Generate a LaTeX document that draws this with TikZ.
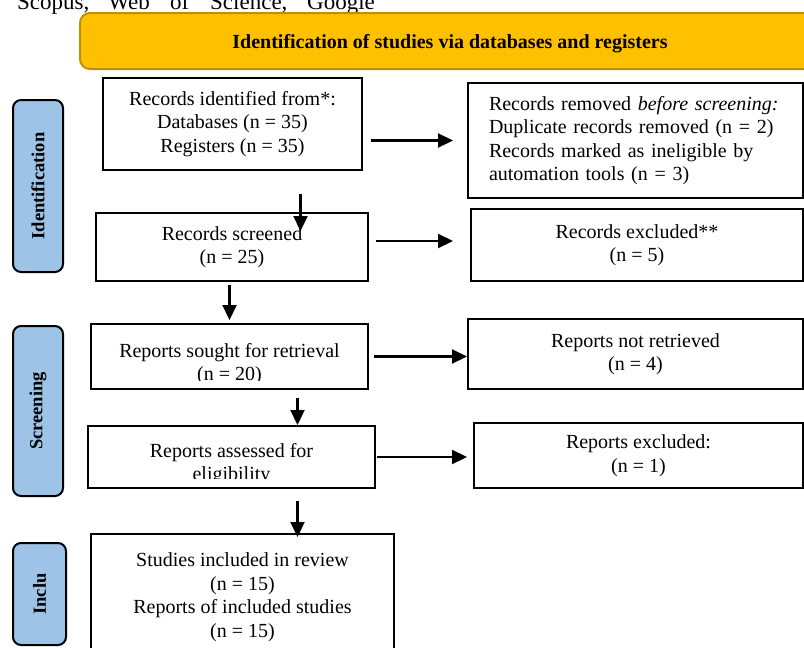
\documentclass[tikz,border=0pt]{standalone}
\usepackage{fontspec}
\setmainfont{Liberation Serif}
\usetikzlibrary{arrows.meta}
\definecolor{bannerfill}{RGB}{255,192,0}
\definecolor{bannerline}{RGB}{191,144,0}
\definecolor{stagefill}{RGB}{157,195,230}
\begin{document}
\begin{tikzpicture}[x=1pt, y=-1pt,
        every node/.style={font=\fontsize{20}{23.5}\selectfont},
        box/.style={draw, line width=2pt, inner sep=0pt, align=center},
        stage/.style={draw, line width=2pt, fill=stagefill, rounded corners=8pt, rotate=90,
            minimum height=50pt, font=\fontsize{18.5}{22}\selectfont\bfseries},
        arr/.style={line width=2.2pt, -{Triangle[length=15pt, width=14pt]}}]
        \useasboundingbox (0,0) rectangle (804,648);
        \node[anchor=base west, inner sep=0pt, font=\fontsize{23}{27}\selectfont] (sources) at (17,9.5)
            {\makebox[91pt][l]{Scopus,}\makebox[62pt][l]{Web}\makebox[40pt][l]{of}\makebox[97pt][l]{Science,}Google};
        \node[draw=bannerline, fill=bannerfill, line width=2pt, rounded corners=10pt,
            minimum width=740pt, minimum height=56pt, text height=14pt, text depth=0pt,
            font=\fontsize{20}{23.5}\selectfont\bfseries] (banner) at (450,41)
            {Identification of studies via databases and registers};
        \node[stage, minimum width=172pt] (idstage) at (38,186) {Identification};
        \node[stage, minimum width=170pt] (scrstage) at (38,411) {Screening};
        \node[stage, minimum width=102pt, minimum height=53pt] (incstage) at (39.5,594) {Inclu};
        \node[box, minimum width=259pt, minimum height=92pt] (ident) at (232.5,124)
            {Records identified from*:\\Databases (n = 35)\\Registers (n = 35)};
        \node[box, minimum height=115pt, align=left, text width=293pt, inner xsep=21pt] (removed) at (635.5,140.5)
            {Records removed \textit{before screening:}\\Duplicate records removed (n = 2)\\
            Records marked as ineligible by\\automation tools (n = 3)};
        \node[box, minimum width=272pt, minimum height=68pt] (screened) at (232,247) {Records screened\\(n = 25)};
        \node[box, minimum width=332pt, minimum height=72pt] (excl) at (637,245) {Records excluded**\\(n = 5)};
        \node[box, minimum width=277pt, minimum height=65pt] (sought) at (229.5,356.5) {};
        \node[box, minimum width=335pt, minimum height=70pt] (notret) at (635.5,354) {Reports not retrieved\\(n = 4)};
        \node[box, minimum width=287pt, minimum height=62pt] (assessed) at (231.5,457) {};
        \node[box, minimum width=329pt, minimum height=65pt] (repexcl) at (638.5,455.5) {Reports excluded:\\(n = 1)};
        \node[box, minimum width=303pt, minimum height=126pt] (incl) at (242.5,597)
            {Studies included in review\\(n = 15)\\Reports of included studies\\(n = 15)};
        \begin{scope}
            \clip (sought.north west) rectangle ([yshift=10pt]sought.south east);
            \node[align=center] (soughttext) at (229.5,364) {Reports sought for retrieval\\(n = 20)};
        \end{scope}
        \begin{scope}
            \clip (assessed.north west) rectangle ([yshift=11pt]assessed.south east);
            \node[align=center] (assessedtext) at (231.5,464) {Reports assessed for\\eligibility};
        \end{scope}
        \coordinate (drop1) at ([xshift=68pt]ident.south);
        \coordinate (out3) at ([yshift=6pt]screened.east);
        \coordinate (drop2) at ([xshift=66pt]assessed.north);
        \coordinate (drop3) at ([xshift=55pt]incl.north);
        \draw[arr, shorten <=8pt, shorten >=14pt] (ident.east |- removed.west) -- (removed.west);
        \draw[arr, shorten <=23pt, shorten >=-19pt] (drop1) -- (drop1 |- screened.north);
        \draw[arr, shorten <=7pt, shorten >=17pt] (out3) -- (out3 -| excl.west);
        \draw[arr, shorten <=3pt, shorten >=3pt] (screened.south -| sought.north) -- (sought.north);
        \draw[arr, shorten <=5pt] (sought.east) -- (sought.east -| notret.west);
        \draw[arr, shorten <=8pt] (drop2 |- sought.south) -- (drop2);
        \draw[arr, shorten <=1pt, shorten >=6pt] (assessed.east) -- (assessed.east -| repexcl.west);
        \draw[arr, shorten <=12pt, shorten >=-4pt] (drop3 |- assessed.south) -- (drop3);
    \end{tikzpicture}
\end{document}
